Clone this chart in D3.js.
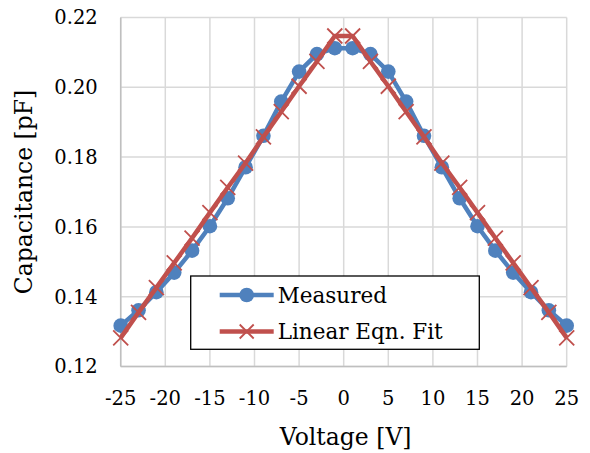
<!DOCTYPE html>
<html>
<head>
<meta charset="utf-8">
<script src="https://cdn.jsdelivr.net/npm/d3@7"></script>
<style>
  body { margin: 0; background: #fff; }
  text { font-family: "DejaVu Serif", serif; fill: #000; }
</style>
</head>
<body>
<div id="chart"></div>
<script>
// voltages (V)
var voltage = [-25, -23, -21, -19, -17, -15, -13, -11, -9, -7, -5, -3, -1,
               1, 3, 5, 7, 9, 11, 13, 15, 17, 19, 21, 23, 25];
// measured capacitance (pF)
var measured = [0.1317, 0.1361, 0.1413, 0.1469, 0.1532, 0.1602, 0.1682, 0.1771, 0.1861, 0.1959, 0.2045, 0.2095, 0.2112,
                0.2112, 0.2095, 0.2045, 0.1959, 0.1861, 0.1771, 0.1682, 0.1602, 0.1532, 0.1469, 0.1413, 0.1361, 0.1317];
// linear equation fit (pF)
var fit = [0.1282, 0.1355, 0.1426, 0.1497, 0.1568, 0.1641, 0.1713, 0.1783, 0.1858, 0.1930, 0.2003, 0.2074, 0.2147,
           0.2147, 0.2074, 0.2003, 0.1930, 0.1858, 0.1783, 0.1713, 0.1641, 0.1568, 0.1497, 0.1426, 0.1355, 0.1282];
var xTicks = [-25, -20, -15, -10, -5, 0, 5, 10, 15, 20, 25];
var yTicks = [0.12, 0.14, 0.16, 0.18, 0.20, 0.22];

var W = 590, H = 453;
var margin = { top: 17.5, right: 23.3, bottom: 86.5, left: 120.7 },
  width = W - margin.left - margin.right,
  height = H - margin.top - margin.bottom;

var svg = d3.select("#chart").append("svg")
  .attr("width", W).attr("height", H)
  .append("g")
  .attr("transform", "translate(" + margin.left + "," + margin.top + ")");

var x = d3.scaleLinear().domain([-25, 25]).range([0, width]);
var y = d3.scaleLinear().domain([0.12, 0.22]).range([height, 0]);

// grid
svg.append("g").selectAll("line.v").data(xTicks).enter().append("line")
  .attr("x1", function (d) { return x(d); }).attr("x2", function (d) { return x(d); })
  .attr("y1", 0).attr("y2", height)
  .style("stroke", "#d9d9d9").style("stroke-width", 1.5);
svg.append("g").selectAll("line.h").data(yTicks).enter().append("line")
  .attr("x1", 0).attr("x2", width)
  .attr("y1", function (d) { return y(d); }).attr("y2", function (d) { return y(d); })
  .style("stroke", "#d9d9d9").style("stroke-width", 1.5);
// axis lines
svg.append("line").attr("x1", 0).attr("x2", 0).attr("y1", 0).attr("y2", height)
  .style("stroke", "#bfbfbf").style("stroke-width", 1.5);
svg.append("line").attr("x1", 0).attr("x2", width).attr("y1", height).attr("y2", height)
  .style("stroke", "#bfbfbf").style("stroke-width", 1.5);

// tick labels
svg.append("g").selectAll("text").data(yTicks).enter().append("text")
  .attr("x", -23).attr("y", function (d) { return y(d); })
  .attr("dy", "0.35em")
  .attr("text-anchor", "end")
  .style("font-size", "19.5px")
  .text(function (d) { return d3.format(".2f")(d); });
svg.append("g").selectAll("text").data(xTicks).enter().append("text")
  .attr("x", function (d) { return x(d); }).attr("y", height + 32)
  .attr("dy", "0.35em")
  .attr("text-anchor", "middle")
  .style("font-size", "19.5px")
  .text(function (d) { return d; });

// axis titles
svg.append("text")
  .attr("transform", "rotate(-90)")
  .attr("x", -height / 2).attr("y", -97)
  .attr("dy", "0.35em")
  .attr("text-anchor", "middle")
  .style("font-size", "23.5px")
  .text("Capacitance [pF]");
svg.append("text")
  .attr("x", width / 2 + 2).attr("y", height + 70)
  .attr("dy", "0.35em")
  .attr("text-anchor", "middle")
  .style("font-size", "23.5px")
  .text("Voltage [V]");

var blue = "#4f81bd", red = "#c0504d";

var line = d3.line()
  .x(function (d) { return x(d[0]); })
  .y(function (d) { return y(d[1]); });

var measData = voltage.map(function (v, i) { return [v, measured[i]]; });
var fitData = voltage.map(function (v, i) { return [v, fit[i]]; });

// measured series
svg.append("path").datum(measData)
  .attr("d", line)
  .style("fill", "none").style("stroke", blue).style("stroke-width", 4.5)
  .style("stroke-linejoin", "round");
svg.append("g").selectAll("circle").data(measData).enter().append("circle")
  .attr("cx", function (d) { return x(d[0]); })
  .attr("cy", function (d) { return y(d[1]); })
  .attr("r", 7.3)
  .style("fill", blue);

// fit series
svg.append("path").datum(fitData)
  .attr("d", line)
  .style("fill", "none").style("stroke", red).style("stroke-width", 4.5)
  .style("stroke-linejoin", "round");
var cross = function (sel, s) {
  sel.each(function (d) {
    var cx = x(d[0]), cy = y(d[1]);
    d3.select(this).append("path")
      .attr("d", "M" + (cx - s) + "," + (cy - s) + "L" + (cx + s) + "," + (cy + s) +
                 "M" + (cx - s) + "," + (cy + s) + "L" + (cx + s) + "," + (cy - s))
      .style("stroke", red).style("stroke-width", 1.8).style("fill", "none");
  });
};
svg.append("g").selectAll("g").data(fitData).enter().append("g").call(cross, 7.5);

// legend
var lg = svg.append("g").attr("transform", "translate(" + (190.7 - margin.left) + "," + (276 - margin.top) + ")");
lg.append("rect").attr("width", 288.6).attr("height", 73.3)
  .style("fill", "#fff").style("stroke", "#000").style("stroke-width", 1.3);
var rows = [
  { name: "Measured", color: blue, y: 19 },
  { name: "Linear Eqn. Fit", color: red, y: 55.5 }
];
rows.forEach(function (r, i) {
  lg.append("line").attr("x1", 29).attr("x2", 83).attr("y1", r.y).attr("y2", r.y)
    .style("stroke", r.color).style("stroke-width", 4.5);
  if (i === 0) {
    lg.append("circle").attr("cx", 56).attr("cy", r.y).attr("r", 7.3).style("fill", blue);
  } else {
    var s = 7;
    lg.append("path")
      .attr("d", "M" + (56 - s) + "," + (r.y - s) + "L" + (56 + s) + "," + (r.y + s) +
                 "M" + (56 - s) + "," + (r.y + s) + "L" + (56 + s) + "," + (r.y - s))
      .style("stroke", red).style("stroke-width", 1.8);
  }
  lg.append("text").attr("x", 87).attr("y", r.y).attr("dy", "0.35em")
    .style("font-size", "21.5px").text(r.name);
});
</script>
</body>
</html>
